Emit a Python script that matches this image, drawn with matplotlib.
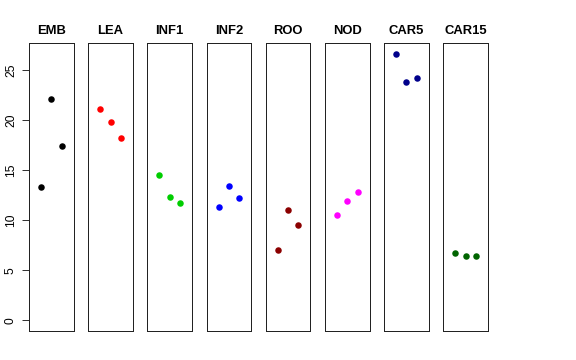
import matplotlib
matplotlib.use("Agg")
import matplotlib.pyplot as plt

plt.rcParams['font.family'] = ['Liberation Sans', 'DejaVu Sans']

tissues = ["EMB", "LEA", "INF1", "INF2", "ROO", "NOD", "CAR5", "CAR15"]
colors = ["#000000", "#FF0000", "#00CD00", "#0000FF", "#8B0000", "#FF00FF", "#00008B", "#006400"]
EMB = [13.36, 22.1, 17.46]
LEA = [21.13, 19.86, 18.2]
INF1 = [14.53, 12.33, 11.76]
INF2 = [11.3, 13.4, 12.26]
ROO = [7.0, 11.03, 9.5]
NOD = [10.56, 11.9, 12.8]
CAR5 = [26.66, 23.86, 24.23]
CAR15 = [6.73, 6.46, 6.46]
series = [EMB, LEA, INF1, INF2, ROO, NOD, CAR5, CAR15]
yticks = [0, 5, 10, 15, 20, 25]

W, H = 576, 360
fig = plt.figure(figsize=(W / 72, H / 72), dpi=72)

ymax = max(max(s) for s in series)
ylo, yhi = -0.04 * ymax, 1.04 * ymax
left0 = 29.0
pitch = 59.19
pw = 44.7
top_px, bot_px = 43.0, 331.0

for i, (name, vals, col) in enumerate(zip(tissues, series, colors)):
    l = left0 + i * pitch
    ax = fig.add_axes([l / W, (H - bot_px) / H, pw / W, (bot_px - top_px) / H])
    xs = list(range(1, len(vals) + 1))
    ax.plot(xs, vals, 'o', color=col, markersize=6.5, markeredgewidth=0)
    ax.set_xlim(-0.16, 4.16)
    ax.set_ylim(ylo, yhi)
    ax.set_xticks([])
    for sp in ax.spines.values():
        sp.set_linewidth(1.0)
        sp.set_color('#222222')
    ax.set_title(name, fontsize=13, fontweight='bold', pad=9)
    if i == 0:
        ax.set_yticks(yticks)
        ax.set_yticklabels([str(t) for t in yticks], rotation=90, va='center', fontsize=12)
        ax.tick_params(axis='y', length=7, width=0.8, pad=5)
    else:
        ax.set_yticks([])

fig.savefig("out.png", dpi=72)
